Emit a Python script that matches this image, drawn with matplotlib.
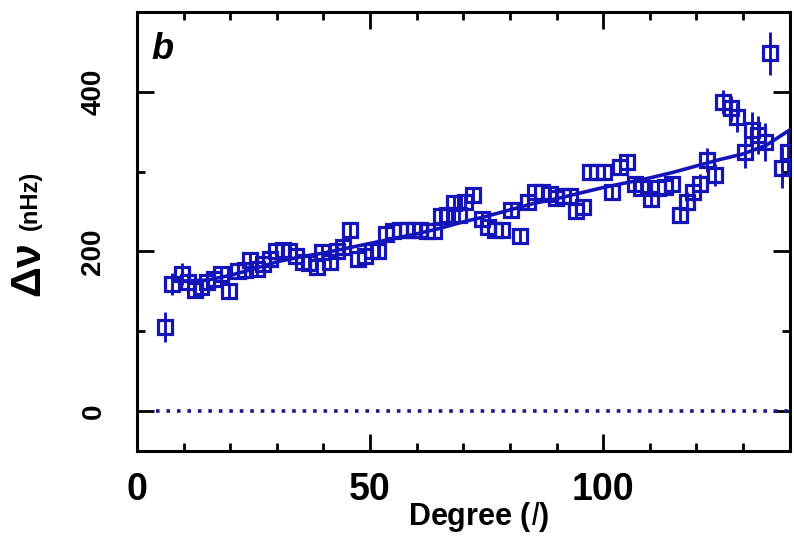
import matplotlib
matplotlib.use("Agg")
import matplotlib.pyplot as plt
from matplotlib.ticker import MultipleLocator

degree = [6, 7.5, 9.7, 11, 12.4, 13.7, 15, 16.5, 18, 19.7, 21.7, 23.2, 24.3, 25.7, 27,
          28.5, 29.8, 31.3, 32.6, 34.1, 35.6, 37, 38.6, 39.7, 41.4, 42.9, 44.2, 45.7,
          47.4, 48.9, 50.4, 51.7, 53.4, 55, 56.4, 57.9, 59.4, 60.7, 62.2, 63.7, 65.2,
          66.5, 68, 69.1, 70.4, 72.1, 74, 75.3, 76.8, 78.3, 80.3, 82.2, 83.9, 85.4,
          86.9, 88.6, 89.9, 91.4, 92.9, 94.2, 95.7, 97.2, 98.7, 100.2, 101.9, 103.6,
          105.2, 106.9, 108.2, 110.3, 111.8, 113.3, 114.8, 116.5, 118, 119.3, 120.8,
          122.3, 124, 125.8, 127.5, 128.8, 130.5, 132, 133.3, 134.8, 135.8, 138.4, 139.7]
splitting = [105, 159, 172, 162, 152, 156, 162, 166, 172, 150, 175, 177, 189, 178, 184,
             191, 200, 202, 200, 194, 187, 185, 181, 199, 187, 200, 206, 227,
             190, 194, 200, 200, 222, 225, 227, 227, 227, 227, 225, 226, 244,
             245, 260, 245, 262, 271, 240, 231, 227, 227, 252, 219, 262, 274,
             274, 272, 267, 269, 269, 250, 256, 300, 300, 300, 275, 306,
             312, 284, 279, 266, 279, 281, 284, 246, 262, 275, 285,
             315, 296, 387, 379, 368, 325, 352, 346, 337, 448, 305, 325]
errors = [19, 14, 14, 9, 9, 8, 8, 8, 8, 8, 8, 8, 8, 8, 8,
          8, 8, 8, 8, 8, 8, 8, 8, 8, 8, 8, 8, 8,
          8, 8, 8, 8, 8, 8, 8, 8, 8, 8, 8, 8, 8,
          8, 8, 8, 8, 8, 8, 8, 8, 8, 8, 8, 8, 8,
          8, 8, 8, 8, 8, 8, 8, 8, 8, 8, 8, 8,
          8, 8, 8, 9, 9, 9, 10, 10, 12, 12, 12,
          15, 14, 15, 16, 18, 20, 22, 24, 24, 27, 26, 28]

# smooth fitted curve
fit_degree = [8, 10, 15, 20, 25, 30, 35, 40, 45, 50, 55, 60, 65, 70, 75, 80, 85, 90,
              95, 100, 105, 110, 115, 120, 125, 130, 135, 140]
fit_splitting = [165, 163, 164, 170, 178, 187, 193, 198, 204, 210, 216, 222, 229, 237,
                 244, 252, 260, 266, 273, 280, 286, 292, 299, 307, 315, 322, 333, 352]

zero_degree = [4, 141]
zero_value = [0, 0]

blue = "#1414b8"
navy = "#1a1a8c"
font = "Liberation Sans"

fig = plt.figure(figsize=(7.94, 5.37), dpi=100)
ax = fig.add_axes([0.1725, 0.160, 0.822, 0.818])

ax.plot(zero_degree, zero_value, color=navy, lw=2.6, linestyle=(0, (1, 1.9)))
ax.plot(fit_degree, fit_splitting, color=blue, lw=2.6, zorder=3)
ax.errorbar(degree, splitting, yerr=errors, fmt="s", mfc="none", mec=blue, ms=10,
            mew=2.3, ecolor=blue, elinewidth=2.1, capsize=0, zorder=4)

ax.set_xlim(0, 140)
ax.set_ylim(-50, 500)

ax.xaxis.set_major_locator(MultipleLocator(50))
ax.xaxis.set_minor_locator(MultipleLocator(10))
ax.yaxis.set_major_locator(MultipleLocator(200))
ax.yaxis.set_minor_locator(MultipleLocator(100))
ax.tick_params(which="both", direction="in", top=True, right=True, width=2)
ax.tick_params(which="major", length=12)
ax.tick_params(which="minor", length=6)
ax.tick_params(axis="x", which="major", pad=15, labelsize=27)
ax.tick_params(axis="y", which="major", pad=22, labelsize=20)
for s in ax.spines.values():
    s.set_linewidth(2.2)

for lab in ax.get_xticklabels():
    lab.set_fontfamily(font)
    lab.set_fontweight("bold")
for lab in ax.get_yticklabels():
    lab.set_fontfamily(font)
    lab.set_fontweight("bold")
    lab.set_rotation(90)
    lab.set_va("center")

ax.set_xlabel("Degree ($\\mathit{l}$)", fontsize=22, fontweight="bold", family=font,
              labelpad=0)
ax.xaxis.set_label_coords(0.524, -0.112)

fig.text(0.036, 0.5, "\u0394\u03bd", rotation=90, fontsize=31, fontweight="bold",
         family=font, ha="center", va="center")
fig.text(0.038, 0.627, "(nHz)", rotation=90, fontsize=17, fontweight="bold",
         family=font, ha="center", va="center")

ax.text(0.022, 0.955, "b", transform=ax.transAxes, fontsize=26, fontweight="bold",
        style="italic", family=font, ha="left", va="top")

fig.savefig("out.png", dpi=100)
